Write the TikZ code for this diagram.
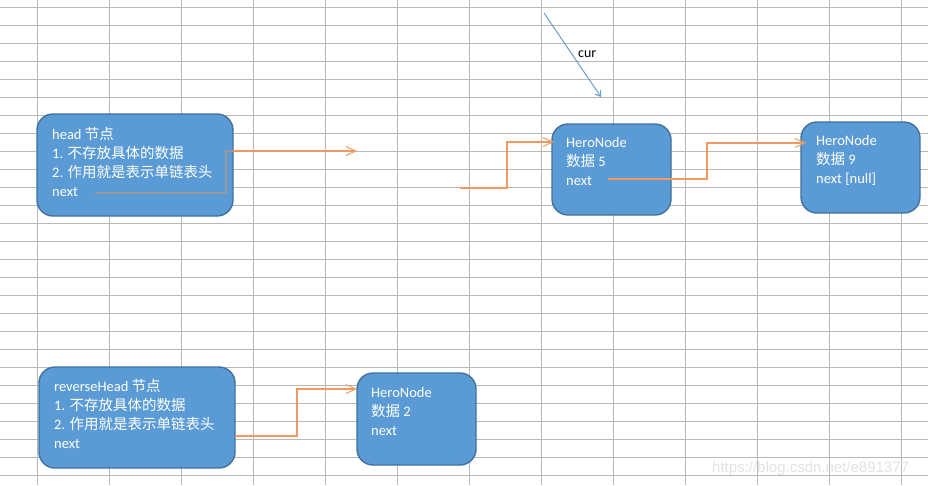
\documentclass[tikz,border=0pt]{standalone}
\usepackage{fontspec}
\setmainfont{Carlito}
\newfontfamily\cjk{Noto Sans CJK SC}
\newfontfamily\wmfont{Liberation Sans}
\usetikzlibrary{arrows.meta}
\definecolor{boxfill}{HTML}{5B9BD5}
\definecolor{boxline}{HTML}{41719C}
\definecolor{linkc}{HTML}{F09A62}
\definecolor{gridc}{HTML}{B8B8B8}
\definecolor{curc}{HTML}{6A9DC9}
\begin{document}
\begin{tikzpicture}[x=1pt,y=-1pt,
  nodebox/.style={draw=boxline,fill=boxfill,line width=1.4pt,rounded corners=16pt,inner sep=0pt},
  txt/.style={anchor=base west,inner sep=0pt,text=white,font=\fontsize{14.5}{19}\selectfont},
  link/.style={draw=linkc,line width=1.4pt,-{Straight Barb[length=10pt,width=9pt,line width=1pt]}},
  curarrow/.style={draw=curc,line width=1pt,-{Straight Barb[length=5pt,width=7pt]}},
  gridline/.style={draw=gridc,line width=1pt}]
\useasboundingbox (0,0) rectangle (928,485);
\fill[white] (0,0) rectangle (928,485);
% grid
\foreach \i in {0,...,12} \draw[gridline] (37+72*\i,0) -- (37+72*\i,485);
\foreach \j in {0,...,26} \draw[gridline] (0,7+18*\j) -- (928,7+18*\j);
% boxes
\node[nodebox,minimum width=196pt,minimum height=102pt] (head) at (135,165) {};
\node[nodebox,minimum width=119pt,minimum height=91pt] (h5) at (611.5,169.5) {};
\node[nodebox,minimum width=119pt,minimum height=91pt] (h9) at (860.5,167.5) {};
\node[nodebox,minimum width=196pt,minimum height=101pt] (rev) at (137,417.5) {};
\node[nodebox,minimum width=119pt,minimum height=92pt] (h2) at (416.5,419) {};
% texts
\node[txt] (head1) at (52,139) {head {\cjk 节点}};
\node[txt] (head2) at (52,158) {1. {\cjk 不存放具体的数据}};
\node[txt] (head3) at (52,177) {2. {\cjk 作用就是表示单链表头}};
\node[txt] (head4) at (52,196) {next};
\node[txt] (h5a) at (566,147) {HeroNode};
\node[txt] (h5b) at (566,166) {{\cjk 数据} 5};
\node[txt] (h5c) at (566,185) {next};
\node[txt] (h9a) at (816,145) {HeroNode};
\node[txt] (h9b) at (816,164) {{\cjk 数据} 9};
\node[txt] (h9c) at (816,183) {next [null]};
\node[txt] (rev1) at (54,391) {reverseHead {\cjk 节点}};
\node[txt] (rev2) at (54,410) {1. {\cjk 不存放具体的数据}};
\node[txt] (rev3) at (54,429) {2. {\cjk 作用就是表示单链表头}};
\node[txt] (rev4) at (54,448) {next};
\node[txt] (h2a) at (371,397) {HeroNode};
\node[txt] (h2b) at (371,416) {{\cjk 数据} 2};
\node[txt] (h2c) at (371,435) {next};
% connectors
\coordinate (hs) at (95,193);
\coordinate (ht) at (357,151);
\coordinate (ms) at (460,188);
\coordinate (mt) at (554,142);
\coordinate (n5) at (608,179);
\coordinate (t9) at (806,143);
\coordinate (rs) at (235,436);
\coordinate (t2) at (357,389);
\draw[link] (hs) -- ++(131,0) |- (ht);
\draw[link] (ms) -- ++(47,0) |- (mt);
\draw[link] (n5) -- ++(99,0) |- (t9);
\draw[link] (rs) -- ++(62,0) |- (t2);
\begin{scope}
\clip[rounded corners=16pt] (37,114) rectangle (233,216);
\draw[draw=gray!80,line width=1.4pt] (hs) -- ++(131,0) |- (ht);
\end{scope}
% cur pointer
\coordinate (c0) at (544,13);
\coordinate (c1) at (601,97);
\draw[curarrow] (c0) -- (c1);
\node[anchor=base west,inner sep=0pt,font=\fontsize{14}{17}\selectfont] (curlbl) at (578,57) {cur};
% watermark
\node[anchor=base west,inner sep=0pt,text=gray!22,font=\wmfont\fontsize{15}{18}\selectfont] (wm) at (712,472) {https://blog.csdn.net/e891377};
\end{tikzpicture}
\end{document}
